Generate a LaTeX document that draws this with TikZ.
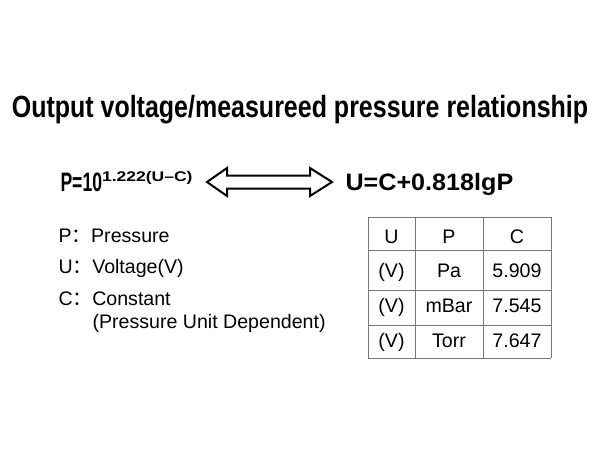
\documentclass[tikz,border=0pt]{standalone}
\usepackage{fontspec}
\setmainfont{Liberation Sans}
\newfontfamily\cjk{Noto Sans CJK SC}
\usepackage{tikz}
\tikzset{every picture/.style={line width=0.75pt}}
\tikzset{
  deftext/.style={anchor=base west, inner sep=0pt, font=\fontsize{14.7}{17}\selectfont},
  celltext/.style={anchor=base, inner sep=0pt, font=\fontsize{14.7}{17}\selectfont},
  gridline/.style={draw={rgb, 255:red, 120; green, 120; blue, 120}, line width=0.75}
}
\newcommand{\fcolon}{{\cjk ：}}

\begin{document}
\begin{tikzpicture}[x=0.75pt,y=0.75pt,yscale=-1,xscale=1]
      \useasboundingbox (0,0) rectangle (600,450);
      % title
      \draw (300,117) node (title) [anchor=base][inner sep=0pt] [font=\fontsize{23}{27}\selectfont\bfseries]
            {\scalebox{0.815}[1]{Output voltage/measureed pressure relationship}};
      % formulas
      \draw (60,191) node (lhs) [anchor=base west][inner sep=0pt] [font=\fontsize{20}{24}\selectfont\bfseries]
            {\scalebox{0.66}[1]{P=10}\raisebox{7pt}{\fontsize{10.5}{12}\selectfont\scalebox{1.25}[1]{1.222(U–C)}}};
      \draw (345,190) node (rhs) [anchor=base west][inner sep=0pt] [font=\fontsize{17.8}{21}\selectfont\bfseries]
            {\scalebox{1.06}[1]{U=C+0.818lgP}};
      \draw [line width=1.5] (207,182) -- (227,168) -- (227,175.5) -- (310,175.5) -- (310,168) -- (332,182)
            -- (310,196) -- (310,188.5) -- (227,188.5) -- (227,196) -- cycle;
      % definitions
      \draw (58,242) node (defP) [deftext] {P\fcolon Pressure};
      \draw (58,273) node (defU) [deftext] {U\fcolon Voltage(V)};
      \draw (58,305) node (defC) [deftext] {C\fcolon Constant};
      \draw (92,328) node (defCu) [deftext] {(Pressure Unit Dependent)};
      % table
      \foreach \x in {368,415,483,551} \draw [gridline] (\x,217) -- (\x,358);
      \foreach \y in {217,250,290,325,358} \draw [gridline] (368,\y) -- (551,\y);
      \foreach \r/\y/\u/\p/\c in {1/243/U/P/C, 2/277/{(V)}/Pa/5.909, 3/312/{(V)}/mBar/7.545, 4/347/{(V)}/Torr/7.647} {
        \node (u\r) [celltext] at (391.5,\y) {\u};
        \node (p\r) [celltext] at (449,\y) {\p};
        \node (c\r) [celltext] at (517,\y) {\c};
      }
\end{tikzpicture}
\end{document}
